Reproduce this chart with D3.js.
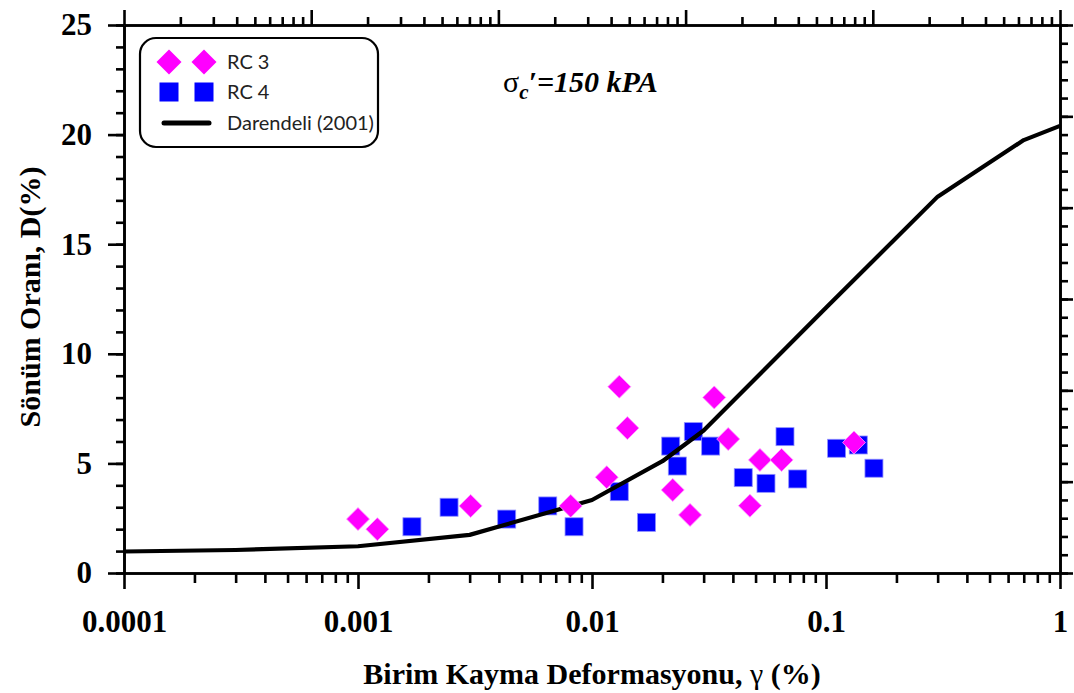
<!DOCTYPE html>
<html>
<head>
<meta charset="utf-8">
<script src="https://cdn.jsdelivr.net/npm/d3@7/dist/d3.min.js"></script>
<style>
  body { margin: 0; background: #fff; }
  svg { display: block; }
</style>
</head>
<body>
<svg id="chart" width="1074" height="693"></svg>
<script>
// ---- data ----
const rc3Strain = [0.001, 0.00121, 0.00303, 0.00811, 0.01156, 0.01308, 0.01416, 0.02213, 0.02624, 0.0333, 0.0382, 0.0473, 0.0522, 0.0646, 0.1317];
const rc3Damping = [2.46, 2.0, 3.06, 3.06, 4.37, 8.5, 6.61, 3.79, 2.65, 8.01, 6.11, 3.07, 5.16, 5.16, 5.95];
const rc4Strain = [0.0017, 0.00245, 0.00432, 0.00647, 0.00838, 0.01308, 0.0171, 0.0217, 0.02315, 0.0271, 0.03214, 0.0443, 0.0554, 0.0668, 0.0757, 0.111, 0.1374, 0.1603];
const rc4Damping = [2.11, 3.0, 2.46, 3.06, 2.11, 3.71, 2.31, 5.79, 4.88, 6.45, 5.79, 4.35, 4.09, 6.22, 4.29, 5.69, 5.84, 4.78];
const darStrain = [0.0001, 0.0003, 0.001, 0.003, 0.01, 0.02, 0.03, 0.1, 0.3, 0.7, 1.0];
const darDamping = [0.98, 1.05, 1.22, 1.74, 3.33, 5.1, 6.5, 12.1, 17.17, 19.75, 20.4];
const xTickValues = [0.0001, 0.001, 0.01, 0.1, 1];
const xTickLabels = ["0.0001", "0.001", "0.01", "0.1", "1"];
const yTickValues = [0, 5, 10, 15, 20, 25];
const legendLabels = ["RC 3", "RC 4", "Darendeli (2001)"];
const xTitle = "Birim Kayma Deformasyonu, ";
const yTitle = "Sönüm Oranı, D(%)";

// ---- layout ----
const L = 124, R = 1060, T = 25, B = 573;
const svg = d3.select("#chart");
const x = d3.scaleLog().domain([0.0001, 1]).range([L, R]);
const xTop = d3.scaleLog().domain([0.00001, 1]).range([L, R]);
const y = d3.scaleLinear().domain([0, 25]).range([B, T]);
const yRight = d3.scaleLinear().domain([0, 30]).range([B, T]);
const serif = "'Liberation Serif', 'Times New Roman', serif";

function minorLog(scale) {
  const [a, b] = scale.domain();
  const out = [];
  for (let e = Math.round(Math.log10(a)); e < Math.round(Math.log10(b)); e++) {
    for (let k = 2; k <= 9; k++) out.push(k * Math.pow(10, e));
  }
  return out;
}
function styleAxis(g) {
  g.selectAll(".domain").attr("stroke", "#000").attr("stroke-width", 2.6);
  g.selectAll(".tick line").attr("stroke", "#000").attr("stroke-width", 2.6);
  g.selectAll("text").attr("fill", "#000");
}

// bottom axis
const gB1 = svg.append("g").attr("transform", `translate(0,${B})`)
  .call(d3.axisBottom(x).tickValues(minorLog(x)).tickSize(10).tickSizeOuter(0).tickFormat(""));
styleAxis(gB1);
const gB2 = svg.append("g").attr("transform", `translate(0,${B})`)
  .call(d3.axisBottom(x).tickValues(xTickValues).tickSize(16).tickSizeOuter(0).tickPadding(21)
    .tickFormat((d, i) => xTickLabels[i]));
styleAxis(gB2);
gB2.selectAll("text").attr("font-family", serif).attr("font-weight", "bold").attr("font-size", 31);

// top axis
const gT1 = svg.append("g").attr("transform", `translate(0,${T})`)
  .call(d3.axisTop(xTop).tickValues(minorLog(xTop)).tickSize(8).tickSizeOuter(0).tickFormat(""));
styleAxis(gT1);
const gT2 = svg.append("g").attr("transform", `translate(0,${T})`)
  .call(d3.axisTop(xTop).tickValues([1e-5, 1e-4, 1e-3, 1e-2, 1e-1, 1]).tickSize(15).tickSizeOuter(0).tickFormat(""));
styleAxis(gT2);

// left axis
const gL1 = svg.append("g").attr("transform", `translate(${L},0)`)
  .call(d3.axisLeft(y).tickValues(d3.range(0, 26, 1)).tickSize(8).tickSizeOuter(0).tickFormat(""));
styleAxis(gL1);
const gL2 = svg.append("g").attr("transform", `translate(${L},0)`)
  .call(d3.axisLeft(y).tickValues(yTickValues).tickSize(16).tickSizeOuter(0).tickPadding(16));
styleAxis(gL2);
gL2.selectAll("text").attr("font-family", serif).attr("font-weight", "bold").attr("font-size", 31);

// right axis
const gR1 = svg.append("g").attr("transform", `translate(${R},0)`)
  .call(d3.axisRight(yRight).tickValues(d3.range(0, 31, 1)).tickSize(8).tickSizeOuter(0).tickFormat(""));
styleAxis(gR1);
const gR2 = svg.append("g").attr("transform", `translate(${R},0)`)
  .call(d3.axisRight(yRight).tickValues(d3.range(0, 31, 5)).tickSize(13).tickSizeOuter(0).tickFormat(""));
styleAxis(gR2);

// ---- marks ----
const rc4 = rc4Strain.map((s, i) => ({ s, d: rc4Damping[i] }));
const rc3 = rc3Strain.map((s, i) => ({ s, d: rc3Damping[i] }));
const dar = darStrain.map((s, i) => ({ s, d: darDamping[i] }));
const sq = 18, dia = 11.5;
const diamondPath = `M0,${-dia}L${dia},0L0,${dia}L${-dia},0Z`;

svg.append("g").selectAll("rect").data(rc4).join("rect")
  .attr("x", d => x(d.s) - sq / 2).attr("y", d => y(d.d) - sq / 2)
  .attr("width", sq).attr("height", sq)
  .attr("fill", "#0000ff").attr("stroke", "#8f8fff").attr("stroke-width", 0.8);

svg.append("path").datum(dar)
  .attr("d", d3.line().x(d => x(d.s)).y(d => y(d.d)).curve(d3.curveLinear))
  .attr("fill", "none").attr("stroke", "#000").attr("stroke-width", 4.2)
  .attr("stroke-linejoin", "round");

svg.append("g").selectAll("path").data(rc3).join("path")
  .attr("transform", d => `translate(${x(d.s)},${y(d.d)})`)
  .attr("d", diamondPath)
  .attr("fill", "#ff00ff").attr("stroke", "#ff9cff").attr("stroke-width", 0.8);

// ---- legend ----
const lg = svg.append("g");
lg.append("rect").attr("x", 140).attr("y", 38).attr("width", 238).attr("height", 109)
  .attr("rx", 16).attr("fill", "#fff").attr("stroke", "#000").attr("stroke-width", 2.2);
[169, 204].forEach(cx => {
  lg.append("path").attr("transform", `translate(${cx},62)`)
    .attr("d", `M0,-12.5L12.5,0L0,12.5L-12.5,0Z`).attr("fill", "#ff00ff");
  lg.append("rect").attr("x", cx - 9.5).attr("y", 82.5).attr("width", 19).attr("height", 19).attr("fill", "#0000ff");
});
lg.append("line").attr("x1", 164).attr("x2", 209).attr("y1", 123).attr("y2", 123)
  .attr("stroke", "#000").attr("stroke-width", 5).attr("stroke-linecap", "round");
const legY = [62, 92, 123];
legendLabels.forEach((t, i) => {
  lg.append("text").attr("x", 227).attr("y", legY[i]).attr("dy", "0.35em")
    .attr("font-family", "Lato, 'Liberation Sans', sans-serif").attr("font-size", 20)
    .attr("fill", "#222").text(t);
});

// ---- annotation ----
const ann = svg.append("text").attr("x", 503).attr("y", 92)
  .attr("font-family", serif).attr("font-size", 30).attr("fill", "#000");
ann.append("tspan").text("σ");
ann.append("tspan").attr("font-weight", "bold").attr("font-style", "italic").attr("font-size", 21)
  .attr("dy", 7).text("c");
ann.append("tspan").attr("font-weight", "bold").attr("font-style", "italic").attr("dy", -7).text("′=150 kPA");

// ---- axis titles ----
const xt = svg.append("text").attr("x", (L + R) / 2).attr("y", 684).attr("text-anchor", "middle")
  .attr("font-family", serif).attr("font-weight", "bold").attr("font-size", 30).attr("fill", "#000");
xt.append("tspan").text(xTitle);
xt.append("tspan").attr("font-weight", "normal").text("γ");
xt.append("tspan").text(" (%)");

svg.append("text").attr("transform", `translate(40,${(T + B) / 2 - 2}) rotate(-90)`)
  .attr("text-anchor", "middle")
  .attr("font-family", serif).attr("font-weight", "bold").attr("font-size", 30).attr("fill", "#000")
  .text(yTitle);
</script>
</body>
</html>
